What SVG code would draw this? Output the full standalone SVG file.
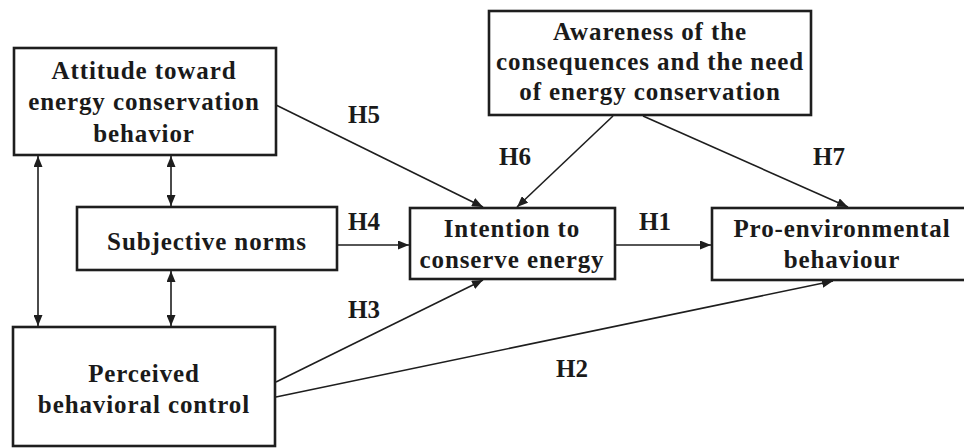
<svg xmlns="http://www.w3.org/2000/svg" width="964" height="448" viewBox="0 0 964 448">
  <style>
    .box { fill: #ffffff; stroke: #1e1e1e; stroke-width: 2.6; }
    .lbl { font-family: "Liberation Serif", "Times New Roman", serif; font-weight: bold; font-size: 25px; fill: #1a1a1a; text-anchor: middle; letter-spacing: 0.9px; }
    .hyp { font-family: "Liberation Serif", "Times New Roman", serif; font-weight: bold; font-size: 25px; fill: #1a1a1a; text-anchor: middle; }
    .edge { fill: none; stroke: #1e1e1e; stroke-width: 1.6; }
  </style>
  <defs>
    <!-- filled triangular arrowhead; reversed at line starts for two-way links -->
    <marker id="head" viewBox="0 0 11 9" refX="11" refY="4.5" markerWidth="11" markerHeight="9" markerUnits="userSpaceOnUse" orient="auto-start-reverse">
      <path d="M0,0 L11,4.5 L0,9 z" fill="#1e1e1e"/>
    </marker>
  </defs>

  <rect width="964" height="448" fill="#ffffff"/>

  <!-- connectors and hypothesis labels -->
  <g id="connectors">
    <line class="edge" x1="38" y1="156" x2="38" y2="326" marker-start="url(#head)" marker-end="url(#head)"/>
    <line class="edge" x1="171" y1="156" x2="171" y2="206" marker-start="url(#head)" marker-end="url(#head)"/>
    <line class="edge" x1="171" y1="271" x2="171" y2="326" marker-start="url(#head)" marker-end="url(#head)"/>
    <line class="edge" x1="276" y1="105" x2="483" y2="207" marker-end="url(#head)"/>
    <line class="edge" x1="613" y1="116" x2="517" y2="207" marker-end="url(#head)"/>
    <line class="edge" x1="643" y1="116" x2="848" y2="207" marker-end="url(#head)"/>
    <line class="edge" x1="338" y1="245" x2="409" y2="245" marker-end="url(#head)"/>
    <line class="edge" x1="616" y1="245" x2="711" y2="245" marker-end="url(#head)"/>
    <line class="edge" x1="276" y1="382" x2="483" y2="280" marker-end="url(#head)"/>
    <line class="edge" x1="276" y1="397" x2="833" y2="281" marker-end="url(#head)"/>
    <text class="hyp" x="364" y="123">H5</text>
    <text class="hyp" x="515" y="165">H6</text>
    <text class="hyp" x="829" y="165">H7</text>
    <text class="hyp" x="364" y="230">H4</text>
    <text class="hyp" x="655" y="230">H1</text>
    <text class="hyp" x="364" y="318">H3</text>
    <text class="hyp" x="572" y="377">H2</text>
  </g>

  <g id="attitude">
    <rect class="box" x="14" y="48" width="262" height="107"/>
    <text class="lbl" x="144" y="79">Attitude toward</text>
    <text class="lbl" x="144" y="110">energy conservation</text>
    <text class="lbl" x="144" y="142">behavior</text>
  </g>

  <g id="awareness">
    <rect class="box" x="489" y="11" width="322" height="104"/>
    <text class="lbl" x="650" y="40">Awareness of the</text>
    <text class="lbl" x="650" y="70">consequences and the need</text>
    <text class="lbl" x="650" y="100">of energy conservation</text>
  </g>

  <g id="subjective-norms">
    <rect class="box" x="77" y="207" width="260" height="63"/>
    <text class="lbl" x="207" y="250">Subjective norms</text>
  </g>

  <g id="intention">
    <rect class="box" x="410" y="208" width="205" height="71"/>
    <text class="lbl" x="512" y="237">Intention to</text>
    <text class="lbl" x="512" y="268">conserve energy</text>
  </g>

  <g id="pro-environmental">
    <rect class="box" x="712" y="208" width="262" height="72"/>
    <text class="lbl" x="842" y="237">Pro-environmental</text>
    <text class="lbl" x="842" y="268">behaviour</text>
  </g>

  <g id="perceived-control">
    <rect class="box" x="13" y="327" width="262" height="119"/>
    <text class="lbl" x="144" y="382">Perceived</text>
    <text class="lbl" x="144" y="413">behavioral control</text>
  </g>
</svg>
